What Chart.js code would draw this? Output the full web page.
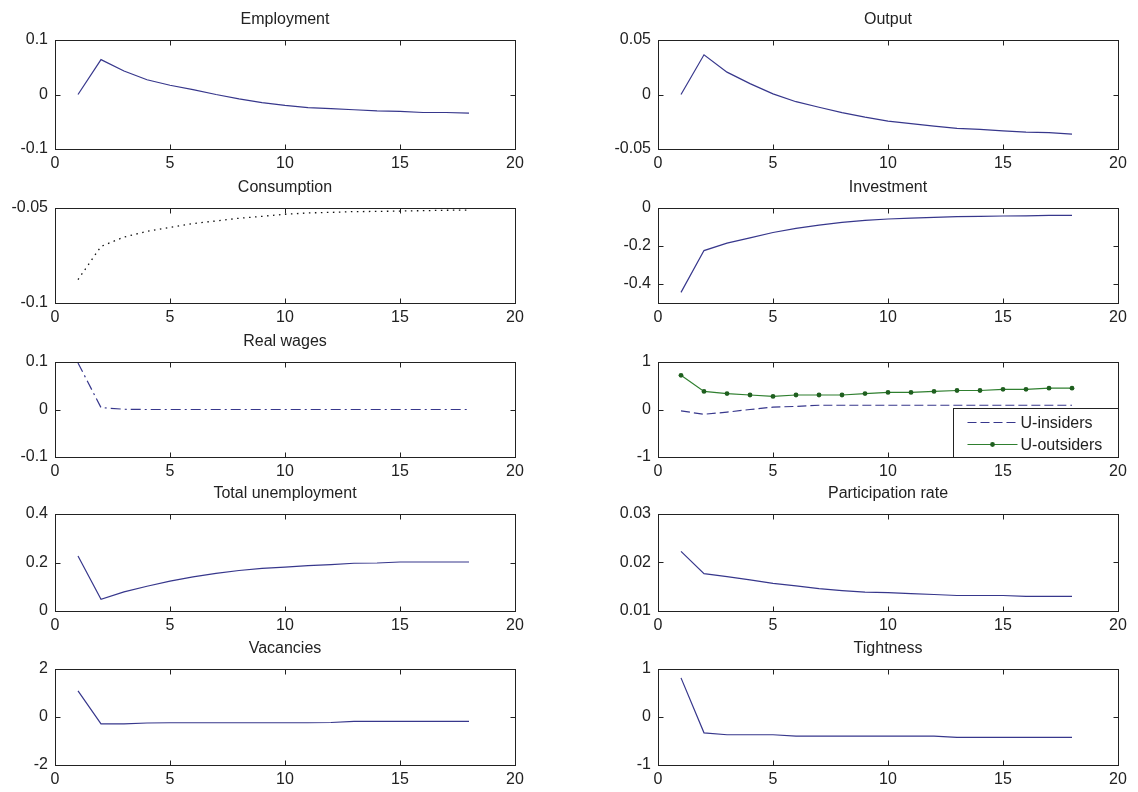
<!DOCTYPE html>
<html>
<head>
<meta charset="utf-8">
<title>Impulse responses</title>
<script src="https://cdn.jsdelivr.net/npm/chart.js@4.4.1/dist/chart.umd.min.js"></script>
<style>
  html, body { margin: 0; padding: 0; background: #fff; }
  #fig { position: relative; width: 1138px; height: 792px; overflow: hidden; }
  .panel { position: absolute; }
</style>
</head>
<body>
<div id="fig"></div>
<script>
/*-------------------
    DATA
--------------------*/
const periods = [1, 2, 3, 4, 5, 6, 7, 8, 9, 10, 11, 12, 13, 14, 15, 16, 17, 18];

const employment = [0, 0.064, 0.043, 0.027, 0.017, 0.009, 0.0, -0.008, -0.015, -0.020, -0.024, -0.026, -0.028, -0.030, -0.031, -0.033, -0.033, -0.034];
const output = [0, 0.0364, 0.0205, 0.010, 0.0006, -0.0066, -0.0117, -0.0166, -0.0208, -0.0244, -0.0268, -0.029, -0.031, -0.032, -0.0334, -0.0346, -0.035, -0.0364];
const consumption = [-0.0877, -0.0702, -0.0653, -0.0623, -0.0602, -0.0582, -0.0568, -0.0554, -0.0544, -0.0533, -0.0526, -0.0523, -0.0519, -0.0518, -0.0516, -0.0514, -0.0512, -0.0511];
const investment = [-0.444, -0.224, -0.185, -0.157, -0.129, -0.107, -0.090, -0.076, -0.065, -0.058, -0.053, -0.049, -0.045, -0.044, -0.042, -0.041, -0.039, -0.039];
const realWages = [0.098, 0.004, 0.0005, 0, 0, 0, 0, 0, 0, 0, 0, 0, 0, 0, 0, 0, 0, 0];
const uInsiders = [-0.03, -0.10, -0.055, 0.0, 0.05, 0.065, 0.09, 0.09, 0.09, 0.09, 0.09, 0.09, 0.09, 0.09, 0.09, 0.09, 0.09, 0.09];
const uOutsiders = [0.72, 0.38, 0.335, 0.305, 0.275, 0.305, 0.305, 0.305, 0.335, 0.36, 0.36, 0.38, 0.40, 0.40, 0.425, 0.425, 0.45, 0.45];
const totalUnemployment = [0.227, 0.048, 0.079, 0.102, 0.123, 0.141, 0.155, 0.167, 0.176, 0.181, 0.187, 0.191, 0.197, 0.198, 0.202, 0.202, 0.202, 0.202];
const participationRate = [0.0223, 0.0177, 0.0171, 0.0164, 0.0157, 0.0152, 0.0146, 0.0142, 0.0139, 0.0138, 0.0136, 0.0134, 0.0132, 0.0132, 0.0132, 0.0130, 0.0130, 0.0130];
const vacancies = [1.09, -0.29, -0.29, -0.25, -0.24, -0.24, -0.24, -0.24, -0.24, -0.24, -0.24, -0.23, -0.18, -0.18, -0.18, -0.18, -0.18, -0.18];
const tightness = [0.815, -0.33, -0.37, -0.37, -0.37, -0.40, -0.40, -0.40, -0.40, -0.40, -0.40, -0.40, -0.425, -0.425, -0.425, -0.425, -0.425, -0.425];

// tick labels
const xTicks = [0, 5, 10, 15, 20];
const employmentTicks = [-0.1, 0, 0.1];
const outputTicks = [-0.05, 0, 0.05];
const consumptionTicks = [-0.1, -0.05];
const investmentTicks = [-0.4, -0.2, 0];
const realWagesTicks = [-0.1, 0, 0.1];
const unemploymentTypeTicks = [-1, 0, 1];
const totalUnemploymentTicks = [0, 0.2, 0.4];
const participationTicks = [0.01, 0.02, 0.03];
const vacanciesTicks = [-2, 0, 2];
const tightnessTicks = [-1, 0, 1];

/*-------------------
    STYLE / LAYOUT
--------------------*/
const BLUE = '#37378c';
const GREEN = '#2f7f2f';
const FONT = '"Liberation Sans", Arial, sans-serif';
const TXT = '#222';

const colLeft = [55, 658];
const plotW = 460;
const rows = [[40, 149], [208, 303], [362, 457], [514, 611], [669, 765]];
const Y_W = 55, X_H = 30, TITLE_H = 30, PAD_R = 22;

const pts = (vals) => periods.map((p, i) => ({x: p, y: vals[i]}));

const line = (label, vals, color, dash, extra) => Object.assign({
    label: label,
    data: pts(vals),
    borderColor: color,
    backgroundColor: color,
    borderWidth: 1.2,
    borderDash: dash || [],
    pointRadius: 0,
    tension: 0,
    fill: false
}, extra || {});

const panels = [
    {col: 0, row: 0, title: 'Employment', yMin: -0.1, yMax: 0.1, yTicks: employmentTicks,
        datasets: [line('Employment', employment, BLUE)]},
    {col: 1, row: 0, title: 'Output', yMin: -0.05, yMax: 0.05, yTicks: outputTicks,
        datasets: [line('Output', output, BLUE)]},
    {col: 0, row: 1, title: 'Consumption', yMin: -0.1, yMax: -0.05, yTicks: consumptionTicks,
        datasets: [line('Consumption', consumption, '#111', [1.5, 4.5], {borderWidth: 1.3})]},
    {col: 1, row: 1, title: 'Investment', yMin: -0.5, yMax: 0, yTicks: investmentTicks,
        datasets: [line('Investment', investment, BLUE)]},
    {col: 0, row: 2, title: 'Real wages', yMin: -0.1, yMax: 0.1, yTicks: realWagesTicks,
        datasets: [line('Real wages', realWages, BLUE, [10, 4, 2, 4])]},
    {col: 1, row: 2, title: '', yMin: -1, yMax: 1, yTicks: unemploymentTypeTicks, legend: true,
        datasets: [
            line('U-insiders', uInsiders, BLUE, [9, 4]),
            line('U-outsiders', uOutsiders, GREEN, [], {pointRadius: 2.4, pointBackgroundColor: '#1f5f1f', pointBorderColor: '#1f5f1f', pointBorderWidth: 0})
        ]},
    {col: 0, row: 3, title: 'Total unemployment', yMin: 0, yMax: 0.4, yTicks: totalUnemploymentTicks,
        datasets: [line('Total unemployment', totalUnemployment, BLUE)]},
    {col: 1, row: 3, title: 'Participation rate', yMin: 0.01, yMax: 0.03, yTicks: participationTicks,
        datasets: [line('Participation rate', participationRate, BLUE)]},
    {col: 0, row: 4, title: 'Vacancies', yMin: -2, yMax: 2, yTicks: vacanciesTicks,
        datasets: [line('Vacancies', vacancies, BLUE)]},
    {col: 1, row: 4, title: 'Tightness', yMin: -1, yMax: 1, yTicks: tightnessTicks,
        datasets: [line('Tightness', tightness, BLUE)]}
];

// matlab-like box with inward ticks, plus the legend inside the axes
const boxPlugin = {
    id: 'matlabBox',
    afterDraw(chart, args, opts) {
        const ctx = chart.ctx;
        const a = chart.chartArea;
        const xs = chart.scales.x, ys = chart.scales.y;
        const L = Math.round(a.left) + 0.5, R = Math.round(a.right) + 0.5;
        const T = Math.round(a.top) + 0.5, B = Math.round(a.bottom) + 0.5;
        ctx.save();
        ctx.strokeStyle = '#222';
        ctx.lineWidth = 1;
        ctx.strokeRect(L, T, R - L, B - T);
        ctx.beginPath();
        xs.ticks.forEach(t => {
            const px = Math.round(xs.getPixelForValue(t.value)) + 0.5;
            ctx.moveTo(px, B); ctx.lineTo(px, B - 5);
            ctx.moveTo(px, T); ctx.lineTo(px, T + 5);
        });
        ys.ticks.forEach(t => {
            const py = Math.round(ys.getPixelForValue(t.value)) + 0.5;
            ctx.moveTo(L, py); ctx.lineTo(L + 5, py);
            ctx.moveTo(R, py); ctx.lineTo(R - 5, py);
        });
        ctx.stroke();

        if (opts && opts.show) {
            const w = 165, h = 49;
            const lx = R - w, ly = B - h;
            ctx.fillStyle = '#fff';
            ctx.fillRect(lx, ly, w, h);
            ctx.strokeStyle = '#222';
            ctx.strokeRect(lx, ly, w, h);
            ctx.font = '16px ' + FONT;
            ctx.textBaseline = 'middle';
            ctx.textAlign = 'left';
            chart.data.datasets.forEach((ds, i) => {
                const cy = ly + 14 + i * 22;
                ctx.strokeStyle = ds.borderColor;
                ctx.lineWidth = ds.borderWidth;
                ctx.setLineDash(ds.borderDash || []);
                ctx.beginPath();
                ctx.moveTo(lx + 14, cy); ctx.lineTo(lx + 64, cy);
                ctx.stroke();
                ctx.setLineDash([]);
                if (ds.pointRadius) {
                    ctx.fillStyle = ds.pointBackgroundColor;
                    ctx.beginPath();
                    ctx.arc(lx + 39, cy, ds.pointRadius, 0, Math.PI * 2);
                    ctx.fill();
                }
                ctx.fillStyle = TXT;
                ctx.fillText(ds.label, lx + 67, cy + 1);
            });
        }
        ctx.restore();
    }
};

/*-------------------
    CHARTS
--------------------*/
const fig = document.getElementById('fig');

panels.forEach(p => {
    const [top, bottom] = rows[p.row];
    const h = bottom - top;
    const div = document.createElement('div');
    div.className = 'panel';
    div.style.left = (colLeft[p.col] - Y_W) + 'px';
    div.style.top = (top - TITLE_H) + 'px';
    div.style.width = (Y_W + plotW + PAD_R) + 'px';
    div.style.height = (TITLE_H + h + X_H) + 'px';
    const canvas = document.createElement('canvas');
    div.appendChild(canvas);
    fig.appendChild(div);

    new Chart(canvas, {
        type: 'line',
        data: {datasets: p.datasets},
        plugins: [boxPlugin],
        options: {
            responsive: true,
            maintainAspectRatio: false,
            animation: false,
            layout: {padding: {left: 0, right: PAD_R, top: p.title ? 0 : TITLE_H, bottom: 0}},
            plugins: {
                legend: {display: false},
                tooltip: {enabled: false},
                title: {
                    display: !!p.title,
                    text: p.title,
                    fullSize: false,
                    color: TXT,
                    font: {family: FONT, size: 16, weight: 'normal', lineHeight: 1.25},
                    padding: {top: 0, bottom: 10}
                },
                matlabBox: {show: !!p.legend}
            },
            scales: {
                x: {
                    type: 'linear',
                    min: 0, max: 20,
                    grid: {display: false, drawTicks: false, tickLength: 0},
                    border: {display: false},
                    afterBuildTicks: s => { s.ticks = xTicks.map(v => ({value: v})); },
                    afterFit: s => { s.height = X_H; },
                    ticks: {color: TXT, font: {family: FONT, size: 16}, padding: 5, maxRotation: 0, autoSkip: false}
                },
                y: {
                    min: p.yMin, max: p.yMax,
                    grid: {display: false, drawTicks: false, tickLength: 0},
                    border: {display: false},
                    afterBuildTicks: s => { s.ticks = p.yTicks.map(v => ({value: v})); },
                    afterFit: s => { s.width = Y_W; },
                    ticks: {color: TXT, font: {family: FONT, size: 16}, padding: 7, autoSkip: false,
                        callback: v => String(v)}
                }
            }
        }
    });
});
</script>
</body>
</html>
